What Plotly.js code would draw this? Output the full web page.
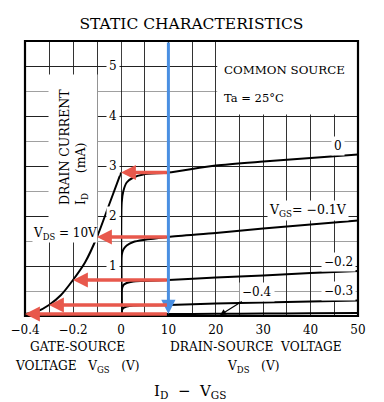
<!DOCTYPE html>
<html><head><meta charset="utf-8">
<script src="https://cdn.plot.ly/plotly-3.0.1.min.js"></script>
<style>html,body{margin:0;padding:0;background:#fff}</style>
</head><body><div id="chart" style="width:384px;height:402px"></div>
<script>
// ---- data ----
const vdsTicks = [0,5,10,15,20,25,30,35,40,45,50];
const vdsTickText = ['0','','10','','20','','30','','40','','50'];
const vgsTicks = [-0.4,-0.3,-0.2,-0.1];
const vgsTickText = ['−0.4','','−0.2',''];
const idTickLabels = [1,2,3,4,5];

// output curves: ID (mA) vs VDS (V)
const vdsPts   = [0.15, 0.15, 0.5, 1.2, 2.6, 4.7, 10, 20, 30, 40, 50];
const idVgs0   = [0, 2.27, 2.50, 2.67, 2.77, 2.83, 2.87, 3.01, 3.09, 3.16, 3.23];
const idVgsM01 = [0, 1.22, 1.33, 1.41, 1.48, 1.52, 1.58, 1.66, 1.75, 1.83, 1.91];
const idVgsM02 = [0, 0.52, 0.62, 0.66, 0.69, 0.70, 0.72, 0.77, 0.81, 0.86, 0.90];
const idVgsM03 = [0, 0.10, 0.16, 0.19, 0.21, 0.215, 0.22, 0.25, 0.27, 0.29, 0.31];
const idVgsM04 = [0, 0.02, 0.03, 0.035, 0.038, 0.04, 0.04, 0.045, 0.05, 0.055, 0.06];

// transfer curve at VDS = 10 V: ID (mA) vs VGS (V)
const vgsPts     = [-0.4, -0.35, -0.3, -0.25, -0.2, -0.15, -0.1, -0.05, 0];
const idTransfer = [0.04, 0.09, 0.22, 0.42, 0.72, 1.07, 1.58, 2.22, 2.87];

// projection arrows (from VDS = 10 V to the transfer curve)
const arrowVds = 10;
const arrowVgs = [0, -0.1, -0.2, -0.3, -0.4];
const arrowId  = [2.87, 1.58, 0.72, 0.22, 0.04];

// ---- layout constants ----
const FONT = 'DejaVu Serif';
const dL = 96/333;                       // left (VGS) panel fraction
const vgsRange = [-0.4, 0], vdsRange = [0, 50], idRange = [0, 5.5];
// convert a VDS value into left-axis units (same pixel scale continuation)
const k = ((vgsRange[1]-vgsRange[0])/dL) / ((vdsRange[1]-vdsRange[0])/(1-dL));

const curveLine = {color:'#000', width:2, shape:'spline', smoothing:0.7};
function outTrace(y){ return {x:vdsPts, y:y, xaxis:'x2', yaxis:'y', mode:'lines', line:curveLine, hoverinfo:'skip'}; }

const traces = [
  outTrace(idVgs0), outTrace(idVgsM01), outTrace(idVgsM02), outTrace(idVgsM03), outTrace(idVgsM04),
  {x:vgsPts, y:idTransfer, xaxis:'x', yaxis:'y', mode:'lines', line:{color:'#000', width:2, shape:'spline', smoothing:0.8}, hoverinfo:'skip'}
];

const txt = (s, extra) => Object.assign({text:s, showarrow:false, xanchor:'center', yanchor:'middle', font:{family:FONT, size:11, color:'#000'}}, extra);

const annotations = [];
// y tick labels
idTickLabels.forEach(v => annotations.push(txt(String(v), {xref:'x', yref:'y', x:0, y:v, xanchor:'right', xshift:-1, bgcolor:'#fff', borderpad:2, font:{family:FONT, size:12, color:'#000'}})));
// y title
annotations.push(txt('DRAIN&nbsp;CURRENT<br>I<sub>D</sub>&nbsp;&nbsp;&nbsp;&nbsp;&nbsp;(mA)', {xref:'x', yref:'y', x:-0.2, y:3.38, textangle:-90, align:'left', font:{family:FONT, size:12.5, color:'#000'}}));
// condition box
annotations.push(txt('COMMON&nbsp;SOURCE', {xref:'x2', yref:'y', x:21.3, y:4.93, xanchor:'left', font:{family:FONT, size:11.8, color:'#000'}}));
annotations.push(txt('Ta&nbsp;=&nbsp;25°C', {xref:'x2', yref:'y', x:21.3, y:4.37, xanchor:'left', font:{family:FONT, size:11.5, color:'#000'}}));
// curve labels
annotations.push(txt('0', {xref:'x2', yref:'y', x:45.8, y:3.4, bgcolor:'#fff', borderpad:2, font:{family:FONT, size:12, color:'#000'}}));
annotations.push(txt('V<sub>GS</sub>=&nbsp;−0.1V', {xref:'x2', yref:'y', x:39.5, y:2.11, bgcolor:'#fff', borderpad:1, font:{family:FONT, size:12.5, color:'#000'}}));
annotations.push(txt('−0.2', {xref:'x2', yref:'y', x:45.8, y:1.09, bgcolor:'#fff', borderpad:2, font:{family:FONT, size:12, color:'#000'}}));
annotations.push(txt('−0.3', {xref:'x2', yref:'y', x:45.8, y:0.5, bgcolor:'#fff', borderpad:2, font:{family:FONT, size:12, color:'#000'}}));
annotations.push(txt('−0.4', {xref:'x2', yref:'y', x:20.9, y:0.02, ax:28.7, ay:0.48, axref:'x2', ayref:'y', showarrow:true, arrowhead:2, arrowsize:1, arrowwidth:1.2, arrowcolor:'#000', bgcolor:'#fff', borderpad:2, font:{family:FONT, size:12, color:'#000'}}));
annotations.push(txt('V<sub>DS</sub>&nbsp;=&nbsp;10V', {xref:'x', yref:'y', x:-0.235, y:1.65, bgcolor:'#fff', borderpad:0, font:{family:FONT, size:12, color:'#000'}}));
// bottom axis titles
annotations.push(txt('GATE-SOURCE', {xref:'paper', yref:'paper', x:0.159, y:-0.113, font:{family:FONT, size:12.2, color:'#000'}}));
annotations.push(txt('VOLTAGE&nbsp;&nbsp;&nbsp;V<sub>GS</sub>&nbsp;&nbsp;&nbsp;(V)', {xref:'paper', yref:'paper', x:0.159, y:-0.185, font:{family:FONT, size:12.2, color:'#000'}}));
annotations.push(txt('DRAIN-SOURCE&nbsp;&nbsp;VOLTAGE', {xref:'paper', yref:'paper', x:0.694, y:-0.113, font:{family:FONT, size:12.2, color:'#000'}}));
annotations.push(txt('V<sub>DS</sub>&nbsp;&nbsp;&nbsp;(V)', {xref:'paper', yref:'paper', x:0.685, y:-0.185, font:{family:FONT, size:12.2, color:'#000'}}));
annotations.push(txt('I<sub>D</sub>&nbsp;&nbsp;−&nbsp;&nbsp;V<sub>GS</sub>', {xref:'paper', yref:'paper', x:0.495, y:-0.275, font:{family:FONT, size:15, color:'#000'}}));
// blue vertical projection line at VDS = 10 V
annotations.push({text:'', xref:'x2', yref:'y', x:arrowVds, y:0.04, ax:arrowVds, ay:idRange[1], axref:'x2', ayref:'y', showarrow:true, arrowhead:2, arrowsize:0.95, arrowwidth:3, arrowcolor:'#4a8fe2', standoff:0});
// red arrows to transfer curve
arrowVgs.forEach((g, i) => annotations.push({text:'', xref:'x', yref:'y', x:g, y:arrowId[i], ax:arrowVds*k, ay:arrowId[i], axref:'x', ayref:'y', showarrow:true, arrowhead:2, arrowsize:0.85, arrowwidth:3.5, arrowcolor:'#e8584c', standoff:0}));

const shapes = [
  {type:'rect', xref:'x', yref:'y', x0:-0.302, x1:-0.098, y0:1.8, y1:4.83, fillcolor:'#fff', line:{width:0}, layer:'between'},
  {type:'rect', xref:'x2', yref:'y', x0:20.3, x1:50, y0:4.03, y1:5.5, fillcolor:'#fff', line:{width:0}, layer:'between'},
  {type:'line', xref:'x2', yref:'y', x0:0, x1:0, y0:0, y1:5.5, line:{color:'#000', width:1.5}, layer:'between'},
  {type:'rect', xref:'paper', yref:'paper', x0:0, x1:1, y0:0, y1:1, line:{color:'#000', width:2.2}, layer:'above'}
];

const xCommon = {showgrid:true, gridcolor:'#333', gridwidth:1, zeroline:false, showline:false, ticks:'', ticklabelstandoff:5, tickmode:'array', tickfont:{family:FONT, size:12, color:'#000'}, fixedrange:true};

const layout = {
  width:384, height:402,
  margin:{l:25, r:26, t:41, b:86, pad:0},
  paper_bgcolor:'#fff', plot_bgcolor:'#fff',
  showlegend:false,
  title:{text:'STATIC CHARACTERISTICS', font:{family:FONT, size:15.5, color:'#000'}, xref:'paper', x:0.5, xanchor:'center', yref:'container', y:1-24/402, yanchor:'middle'},
  xaxis: Object.assign({}, xCommon, {domain:[0, dL], range:vgsRange, tickvals:vgsTicks, ticktext:vgsTickText, anchor:'y'}),
  xaxis2: Object.assign({}, xCommon, {domain:[dL, 1], range:vdsRange, tickvals:vdsTicks, ticktext:vdsTickText, anchor:'y'}),
  yaxis: {range:idRange, dtick:1, tick0:0, showgrid:true, gridcolor:'#222', gridwidth:1, zeroline:false, showline:false, ticks:'', showticklabels:false, fixedrange:true,
          minor:{dtick:0.5, tick0:0, showgrid:true, gridcolor:'#a0a0a0', gridwidth:1, ticks:''}},
  annotations: annotations,
  shapes: shapes
};

Plotly.newPlot('chart', traces, layout, {displayModeBar:false, staticPlot:true});
</script></body></html>
